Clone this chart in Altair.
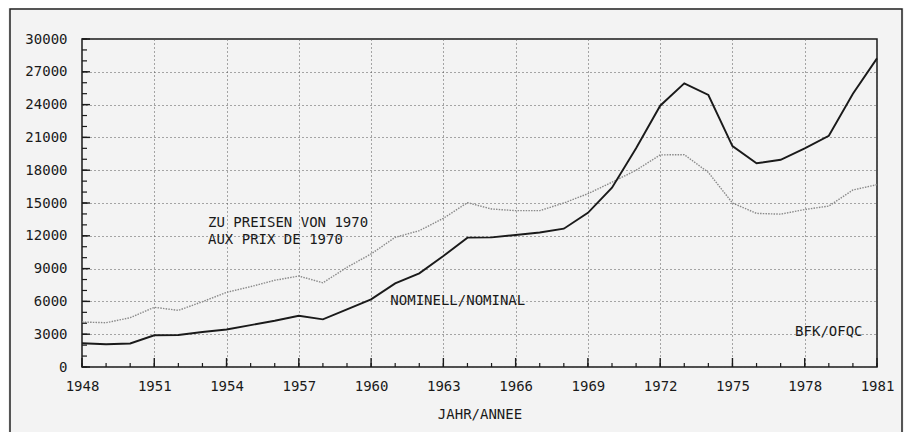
import altair as alt
import pandas as pd

# ---- data ----
years = list(range(1948, 1982))
nominal = [2170, 2080, 2150, 2900, 2930, 3200, 3430, 3830, 4230, 4690,
           4360, 5270, 6190, 7650, 8570, 10150, 11830, 11860, 12070, 12300,
           12650, 14100, 16400, 20000, 23900, 25950, 24880, 20200, 18630, 18950,
           20000, 21150, 25000, 28230]
real = [4115, 4050, 4510, 5460, 5180, 5970, 6830, 7350, 7930, 8320,
        7700, 9120, 10340, 11860, 12470, 13600, 15030, 14450, 14300, 14300,
        15000, 15850, 16900, 18000, 19400, 19420, 17800, 15000, 14050, 13980,
        14400, 14720, 16190, 16680]

y_major = list(range(0, 30001, 3000))
y_minor = list(range(0, 30001, 1000))
x_major = list(range(1948, 1982, 3))
x_minor = list(range(1948, 1982))

ann_text = ["ZU PREISEN VON 1970", "AUX PRIX DE 1970", "NOMINELL/NOMINAL", "BFK/OFQC"]
ann_x = [1953.23, 1953.23, 1960.8, 1977.6]
ann_y = [13150, 11600, 6050, 3200]

x_title = "JAHR/ANNEE"

# ---- styling ----
W, H = 795, 328
FONT = "DejaVu Sans Mono"
BG = "#f3f3f3"
INK = "#1a1a1a"

df = pd.DataFrame({"year": years, "nominal": nominal, "real": real})
xs = alt.Scale(domain=[1948, 1981], nice=False, zero=False)
ys = alt.Scale(domain=[0, 30000], nice=False, zero=False)

x_axis = alt.Axis(values=x_major, format="d", grid=True, gridDash=[1, 3],
                  gridColor="#555", gridWidth=1, domain=False, ticks=False,
                  labelOverlap=False, labelFlush=False, labelBound=False,
                  labelFont=FONT, labelFontSize=14, labelColor=INK, labelPadding=12,
                  title=x_title, titleFont=FONT, titleFontSize=14,
                  titleFontWeight="normal", titleColor=INK, titlePadding=14)
y_axis = alt.Axis(values=y_major, format="d", grid=True, gridDash=[1, 3],
                  gridColor="#555", gridWidth=1, domain=False, ticks=False,
                  labelOverlap=False, labelFlush=False, labelBound=False,
                  labelFont=FONT, labelFontSize=14, labelColor=INK, labelPadding=15,
                  title=None)

base = alt.Chart(df)

real_line = base.mark_line(color="#8a8a8a", strokeWidth=1.4, strokeDash=[1.5, 1.2]).encode(
    x=alt.X("year:Q", scale=xs, axis=x_axis),
    y=alt.Y("real:Q", scale=ys, axis=y_axis),
)
nom_line = base.mark_line(color=INK, strokeWidth=1.9).encode(
    x=alt.X("year:Q", scale=xs, axis=x_axis),
    y=alt.Y("nominal:Q", scale=ys, axis=y_axis),
)

ymaj = alt.Chart(pd.DataFrame({"v": y_major})).mark_rule(color=INK, strokeWidth=1.4).encode(
    y=alt.Y("v:Q", scale=ys, axis=y_axis), x=alt.value(0), x2=alt.value(8))
ymin = alt.Chart(pd.DataFrame({"v": y_minor})).mark_rule(color=INK, strokeWidth=1.2).encode(
    y=alt.Y("v:Q", scale=ys, axis=y_axis), x=alt.value(0), x2=alt.value(5))
xmaj = alt.Chart(pd.DataFrame({"t": x_major})).mark_rule(color=INK, strokeWidth=1.4).encode(
    x=alt.X("t:Q", scale=xs, axis=x_axis), y=alt.value(H), y2=alt.value(H - 9))
xmin = alt.Chart(pd.DataFrame({"t": x_minor})).mark_rule(color=INK, strokeWidth=1.2).encode(
    x=alt.X("t:Q", scale=xs, axis=x_axis), y=alt.value(H), y2=alt.value(H - 4))

ann_df = pd.DataFrame({"label": ann_text, "x": ann_x, "y": ann_y})
ann = alt.Chart(ann_df).mark_text(font=FONT, fontSize=14, align="left", baseline="middle",
                                  color=INK).encode(
    x=alt.X("x:Q", scale=xs, axis=x_axis), y=alt.Y("y:Q", scale=ys, axis=y_axis), text="label:N")

frame = alt.Chart(alt.Data(values=[{}])).mark_rect(filled=False, stroke="#222", strokeWidth=1.5).encode(
    x=alt.value(-72), x2=alt.value(820), y=alt.value(-30), y2=alt.value(440))

chart = alt.layer(frame, real_line, ymin, ymaj, xmin, xmaj, ann, nom_line).properties(
    width=W, height=H,
    padding={"left": 74, "top": 31, "right": 27, "bottom": 65},
    autosize=alt.AutoSizeParams(type="none"),
    background=BG,
).configure_view(stroke=INK, strokeWidth=1.5)

chart.save("out.html", embed_options={"renderer": "svg", "actions": False})
